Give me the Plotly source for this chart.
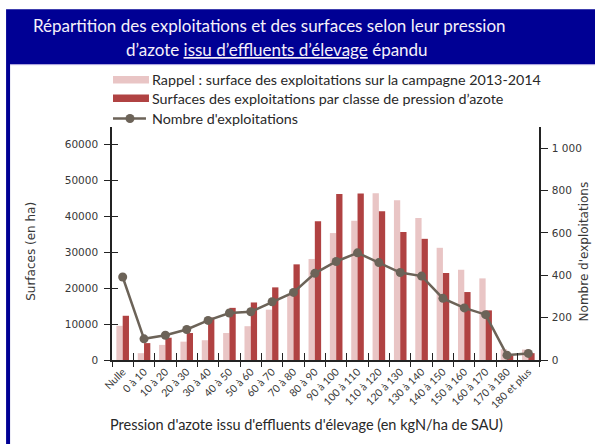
import plotly.graph_objects as go

categories = ["Nulle", "0 à 10", "10 à 20", "20 à 30", "30 à 40", "40 à 50", "50 à 60",
              "60 à 70", "70 à 80", "80 à 90", "90 à 100", "100 à 110", "110 à 120",
              "120 à 130", "130 à 140", "140 à 150", "150 à 160", "160 à 170",
              "170 à 180", "180 et plus"]
rappel_2013_2014 = [9500, 1900, 4200, 5100, 5500, 7500, 9400, 14000, 18000, 28100,
                    35300, 38700, 46400, 44400, 39500, 31200, 25100, 22700, 3000, 2900]
surfaces_classe = [12300, 4700, 6200, 7500, 11800, 14500, 16000, 20200, 26600, 38600,
                   46200, 46300, 41400, 35600, 33700, 24200, 18900, 13800, 1200, 1900]
nb_exploitations = [392, 100, 117, 144, 187, 222, 228, 275, 319, 409,
                    465, 506, 460, 413, 396, 291, 246, 214, 23, 31]

left_tickvals = [0, 10000, 20000, 30000, 40000, 50000, 60000]
left_ticktext = ["0", "10000", "20000", "30000", "40000", "50000", "60000"]
right_tickvals = [0, 200, 400, 600, 800, 1000]
right_ticktext = ["0", "200", "400", "600", "800", "1 000"]

legend_names = ["Rappel : surface des exploitations sur la campagne 2013-2014",
                "Surfaces des exploitations par classe de pression d’azote",
                "Nombre d'exploitations"]

W, H = 595, 444
L, R, T, B = 112, 55.7, 127, 83.5
PW, PH = W - L - R, H - T - B

def px_x(px):
    return (px - L) / PW

def px_y(py):
    return (H - B - py) / PH

PINK = "rgb(233,197,197)"
RED = "rgb(176,66,66)"
LINEC = "rgb(108,99,88)"
NAVY = "rgb(0,0,148)"
AXC = "rgb(35,35,35)"
TXT = "rgb(55,55,55)"

fig = go.Figure()
fig.add_trace(go.Bar(x=categories, y=rappel_2013_2014, name=legend_names[0],
                     marker=dict(color=PINK, line=dict(width=0)), showlegend=False))
fig.add_trace(go.Bar(x=categories, y=surfaces_classe, name=legend_names[1],
                     marker=dict(color=RED, line=dict(width=0)), showlegend=False))
fig.add_trace(go.Scatter(x=categories, y=nb_exploitations, name=legend_names[2], yaxis="y2",
                         mode="lines+markers", line=dict(color=LINEC, width=2.5),
                         marker=dict(color=LINEC, size=9), showlegend=False))
# helper invisible trace for inner tick overlay axes
fig.add_trace(go.Scatter(x=categories, y=surfaces_classe, xaxis="x2", yaxis="y3",
                         mode="markers", marker=dict(opacity=0), hoverinfo="skip",
                         showlegend=False))

tick_font = dict(family="DejaVu Sans", size=10.5, color=TXT)

fig.update_layout(
    width=W, height=H,
    margin=dict(l=L, r=R, t=T, b=B, pad=0),
    paper_bgcolor="white", plot_bgcolor="rgba(0,0,0,0)",
    barmode="group", bargap=0.41, bargroupgap=0,
    xaxis=dict(type="category", categoryorder="array", categoryarray=categories,
               range=[-0.5, len(categories) - 0.5],
               tickson="boundaries", ticks="outside", ticklen=5, tickwidth=1.3, tickcolor=AXC,
               showline=True, linecolor=AXC, linewidth=1.5, showgrid=False, zeroline=False,
               tickangle=-45, tickfont=dict(family="Lato", size=10.5, color=TXT)),
    xaxis2=dict(type="category", categoryorder="array", categoryarray=categories,
                range=[-0.5, len(categories) - 0.5], overlaying="x", anchor="y",
                tickson="boundaries", ticks="inside", ticklen=7, tickwidth=1.3, tickcolor=AXC,
                showticklabels=False, showline=False, showgrid=False, zeroline=False),
    yaxis=dict(range=[0, 64800], tickvals=left_tickvals, ticktext=left_ticktext,
               ticks="outside", ticklen=6,
               tickwidth=1.3, tickcolor=AXC, showline=True, linecolor=AXC, linewidth=1.5,
               showgrid=False, zeroline=False, tickfont=tick_font, ticklabelstandoff=4),
    yaxis3=dict(range=[0, 64800], tickvals=left_tickvals, ticks="inside", ticklen=6,
                tickwidth=1.3, tickcolor=AXC, overlaying="y", anchor="x",
                showticklabels=False, showline=False, showgrid=False, zeroline=False),
    yaxis2=dict(range=[0, 1100], tickvals=right_tickvals, ticktext=right_ticktext,
                overlaying="y", side="right", anchor="x",
                ticks="outside", ticklen=7, tickwidth=1.3, tickcolor=AXC,
                showline=True, linecolor=AXC, linewidth=1.5, showgrid=False, zeroline=False,
                tickfont=tick_font, ticklabelstandoff=2),
)

shapes = []
# frame
shapes.append(dict(type="rect", xref="paper", yref="paper", layer="below",
                   x0=px_x(6), x1=px_x(640), y0=px_y(9), y1=px_y(480),
                   fillcolor=NAVY, line=dict(width=0)))
shapes.append(dict(type="rect", xref="paper", yref="paper", layer="below",
                   x0=px_x(10), x1=px_x(640), y0=px_y(64), y1=px_y(480),
                   fillcolor="white", line=dict(width=0)))
shapes.append(dict(type="line", xref="paper", yref="paper", layer="below",
                   x0=px_x(10), x1=px_x(640), y0=px_y(64.5), y1=px_y(64.5),
                   line=dict(color="rgb(170,160,220)", width=1)))
# legend swatches
shapes.append(dict(type="rect", xref="paper", yref="paper",
                   x0=px_x(113), x1=px_x(149), y0=px_y(76), y1=px_y(83.5),
                   fillcolor=PINK, line=dict(width=0)))
shapes.append(dict(type="rect", xref="paper", yref="paper",
                   x0=px_x(113), x1=px_x(149), y0=px_y(94.5), y1=px_y(102),
                   fillcolor=RED, line=dict(width=0)))
shapes.append(dict(type="line", xref="paper", yref="paper",
                   x0=px_x(113), x1=px_x(146), y0=px_y(118.5), y1=px_y(118.5),
                   line=dict(color=LINEC, width=2.5)))
shapes.append(dict(type="circle", xref="paper", yref="paper",
                   x0=px_x(125.5), x1=px_x(134.5), y0=px_y(114), y1=px_y(123),
                   fillcolor=LINEC, line=dict(width=0)))
fig.update_layout(shapes=shapes)

ann = []
title_font = dict(family="Lato", size=17, color="rgb(245,240,250)")
ann.append(dict(text="Répartition des exploitations et des surfaces selon leur pression",
                xref="paper", yref="paper", x=px_x(270), y=px_y(25), xanchor="center",
                yanchor="middle", showarrow=False, font=title_font))
ann.append(dict(text="d’azote <u>issu d’effluents d’élevage</u> épandu",
                xref="paper", yref="paper", x=px_x(277), y=px_y(49), xanchor="center",
                yanchor="middle", showarrow=False, font=title_font))
leg_font = dict(family="Lato", size=14.3, color="rgb(40,40,40)")
for name, ypx in zip(legend_names, [79.5, 98.5, 118.5]):
    ann.append(dict(text=name, xref="paper", yref="paper", x=px_x(150), y=px_y(ypx),
                    xanchor="left", yanchor="middle", showarrow=False, font=leg_font))
ann.append(dict(text="Surfaces (en ha)", xref="paper", yref="paper", x=px_x(31), y=px_y(252),
                xanchor="center", yanchor="middle", textangle=-90, showarrow=False,
                font=dict(family="DejaVu Sans", size=12, color=TXT)))
ann.append(dict(text="Nombre d'exploitations", xref="paper", yref="paper", x=px_x(584),
                y=px_y(252), xanchor="center", yanchor="middle", textangle=-90,
                showarrow=False, font=dict(family="DejaVu Sans", size=12, color=TXT)))
ann.append(dict(text="Pression d'azote issu d'effluents d'élevage (en kgN/ha de SAU)",
                xref="paper", yref="paper", x=px_x(108), y=px_y(425), xanchor="left",
                yanchor="middle", showarrow=False,
                font=dict(family="Lato", size=14.5, color="rgb(40,40,40)")))
fig.update_layout(annotations=ann)

fig.write_html("out.html", config={"displayModeBar": False},
               post_script="document.body.style.margin='0';")
